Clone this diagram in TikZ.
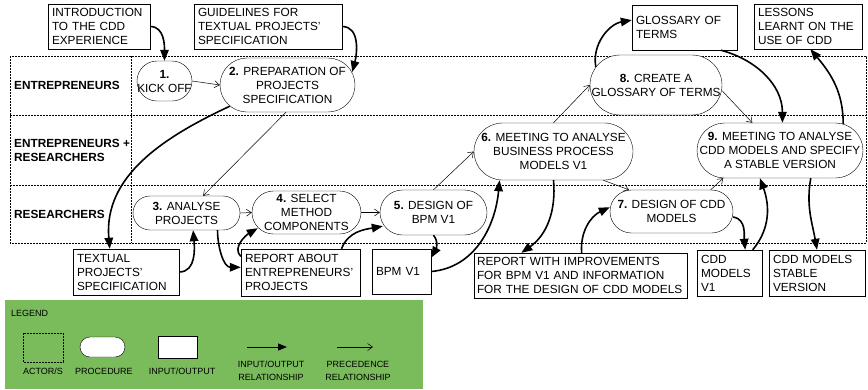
\documentclass[tikz,border=0pt]{standalone}
\usepackage{fontspec}
\setmainfont{Liberation Sans}
\usetikzlibrary{arrows.meta}

\newcommand\txtsize{\fontsize{11.8}{14}\selectfont}
\newcommand\legsize{\fontsize{9}{13}\selectfont}
\definecolor{legendgreen}{RGB}{122,187,92}
\hyphenpenalty=10000
\exhyphenpenalty=10000

\begin{document}
\begin{tikzpicture}[x=1pt, y=-1pt,
    proc/.style 2 args={draw, fill=white, rectangle, rounded corners=#2pt/2,
        minimum width=#1pt, minimum height=#2pt, inner sep=0pt,
        align=center, font=\txtsize},
    iobox/.style 2 args={draw, fill=white, rectangle, align=left,
        inner xsep=4pt, inner ysep=0pt, text width=#1pt,
        minimum height=#2pt, font=\txtsize},
    lane/.style={line width=0.6pt, dash pattern=on 1.6pt off 1.4pt},
    lanelabel/.style={anchor=west, align=left, inner sep=0pt,
        font=\txtsize\bfseries},
    io/.style={line width=1.6pt, -{Triangle[length=11pt,width=8.5pt]}},
    prec/.style={line width=0.5pt, -{Straight Barb[length=5pt,width=7pt]}},
    leg/.style={align=center, inner sep=0pt, font=\legsize}]

    \useasboundingbox (0,0) rectangle (868,389);

    % Lanes of the actors
    \draw[lane] (10,56) rectangle (866,243);
    \foreach \y in {115,185}
        \draw[lane] (10,\y) -- (866,\y);
    \draw[lane] (131,56) -- (131,243);

    \node[lanelabel] (entlbl) at (14,85) {ENTREPRENEURS};
    \node[lanelabel] (bothlbl) at (14,150) {ENTREPRENEURS +\\RESEARCHERS};
    \node[lanelabel] (reslbl) at (14,214) {RESEARCHERS};

    % Procedures
    \node[proc={55}{40}] (kickoff) at (164.5,81) {\textbf{1.}\\KICK OFF};
    \node[proc={135}{54}] (prepare) at (287.5,85)
        {\textbf{2.} PREPARATION OF\\PROJECTS\\SPECIFICATION};
    \node[proc={107}{34}] (analyse) at (186.5,213) {\textbf{3.} ANALYSE\\PROJECTS};
    \node[proc={109}{43}] (selectm) at (306.5,212.5)
        {\textbf{4.} SELECT\\METHOD\\COMPONENTS};
    \node[proc={107}{45}] (designbpm) at (433.5,212.5) {\textbf{5.} DESIGN OF\\BPM V1};
    \node[proc={159}{57}] (meetbpm) at (553.5,151.5)
        {\textbf{6.} MEETING TO ANALYSE\\BUSINESS PROCESS\\MODELS V1};
    \node[proc={123}{43}] (designcdd) at (671.5,211.5)
        {\textbf{7.} DESIGN OF CDD\\MODELS};
    \node[proc={132}{60}] (glossary) at (656,85)
        {\textbf{8.} CREATE A\\GLOSSARY OF TERMS};
    \node[proc={166}{55}] (meetcdd) at (780,150.5)
        {\textbf{9.} MEETING TO ANALYSE\\CDD MODELS AND SPECIFY\\A STABLE VERSION};

    % Inputs and outputs
    \node[iobox={94}{45}] (intro) at (99,26.5) {INTRODUCTION\\TO THE CDD\\EXPERIENCE};
    \node[iobox={140}{45}] (guide) at (268,26.5)
        {GUIDELINES FOR\\TEXTUAL PROJECTS'\\SPECIFICATION};
    \node[iobox={97}{45}] (gloss) at (684.5,27.5) {GLOSSARY OF\\TERMS};
    \node[iobox={100}{45}] (lessons) at (808,26.5) {LESSONS\\LEARNT ON THE\\USE OF CDD};
    \node[iobox={98}{46}] (textspec) at (126,272) {TEXTUAL\\PROJECTS'\\SPECIFICATION};
    \node[iobox={111}{47}] (reportprj) at (300.5,272.5)
        {REPORT ABOUT\\ENTREPRENEURS'\\PROJECTS};
    \node[iobox={51}{45}] (bpm) at (401.5,271.5) {BPM V1};
    \node[iobox={207}{45}, inner xsep=3pt] (reportimp) at (580.5,275.5)
        {REPORT WITH IMPROVEMENTS\\FOR BPM V1 AND INFORMATION\\FOR THE DESIGN OF CDD MODELS};
    \node[iobox={57}{46}] (cddvone) at (729.5,273) {CDD\\MODELS\\V1};
    \node[iobox={88}{46}] (stable) at (817,273) {CDD MODELS\\STABLE\\VERSION};

    % Precedence relationships
    \draw[prec] (kickoff.east) -- (prepare.west);
    \draw[prec] (prepare.-93) -- (analyse.46);
    \draw[prec] (analyse.east) -- (selectm.west);
    \draw[prec] (selectm.east) -- (designbpm.west);
    \draw[prec] (designbpm.north) -- (meetbpm.west);
    \draw[prec] (meetbpm.-30) -- (designcdd.153);
    \draw[prec] (meetbpm.north) -- (glossary.west);
    \draw[prec] (glossary.-5) -- (meetcdd.135);
    \draw[prec] (designcdd.29) -- (meetcdd.206);

    % Input/output relationships
    \draw[io] (intro.east) to[out=0,in=90] (kickoff.north);
    \draw[io] (guide.east) to[out=0,in=75] ([xshift=-3pt,yshift=13pt]prepare.east);
    \draw[io] ([xshift=10pt,yshift=6pt]prepare.south west)
        to[out=205,in=95] (textspec.125);
    \draw[io] (textspec.east) to[out=0,in=-85] (analyse.-69);
    \draw[io] (analyse.-29) to[out=-90,in=180] (reportprj.175);
    \draw[io] (reportprj.165) to[out=135,in=210]
        ([xshift=6pt,yshift=6pt]selectm.south west);
    \draw[io] (reportprj.30) to[out=70,in=190]
        ([xshift=3pt,yshift=9pt]designbpm.south west);
    \draw[io] (designbpm.south) to[out=-50,in=60] (bpm.25);
    \draw[io] (bpm.east) to[out=5,in=-95] (meetbpm.208);
    \draw[io] (meetbpm.south) to[out=-85,in=35] (reportimp.159);
    \draw[io] (reportimp.87) to[out=95,in=205] (designcdd.176);
    \draw[io] (designcdd.-5) to[out=-10,in=95] (cddvone.56);
    \draw[io] (cddvone.45) to[out=50,in=-70] (meetcdd.234);
    \draw[io] (meetcdd.-42) to[out=-100,in=100] (stable.north);
    \draw[io] ([xshift=6pt,yshift=-12pt]glossary.north west)
        to[out=100,in=190] (gloss.172);
    \draw[io] (gloss.-32) to[out=-15,in=90] (meetcdd.85);
    \draw[io] ([xshift=-20pt,yshift=-1pt]meetcdd.north east)
        to[out=90,in=-50] (lessons.-84);

    % Legend
    \fill[legendgreen] (5,300) rectangle (423,389);
    \node[leg, anchor=west] (legtitle) at (11,313) {LEGEND};
    \draw[lane, fill=legendgreen] (23,333) rectangle (63,362);
    \node[draw, fill=white, rounded corners=10pt, minimum width=45pt,
        minimum height=20pt] (legproc) at (102.5,347) {};
    \node[draw, fill=white, minimum width=39pt, minimum height=22pt]
        (legio) at (177.5,347) {};
    \coordinate (ioA) at (247,347);
    \coordinate (ioB) at (287,347);
    \draw[line width=1pt, -{Triangle[length=9pt,width=7pt]}] (ioA) -- (ioB);
    \coordinate (prA) at (337,347);
    \coordinate (prB) at (373,347);
    \draw[prec] (prA) -- (prB);
    \node[leg] (legactor) at (43,371) {ACTOR/S};
    \node[leg] (legproctxt) at (104,371) {PROCEDURE};
    \node[leg] (legiotxt) at (182,371) {INPUT/OUTPUT};
    \node[leg] (legiorel) at (271,370.5) {INPUT/OUTPUT\\RELATIONSHIP};
    \node[leg] (legprecrel) at (358,370.5) {PRECEDENCE\\RELATIONSHIP};

\end{tikzpicture}
\end{document}
